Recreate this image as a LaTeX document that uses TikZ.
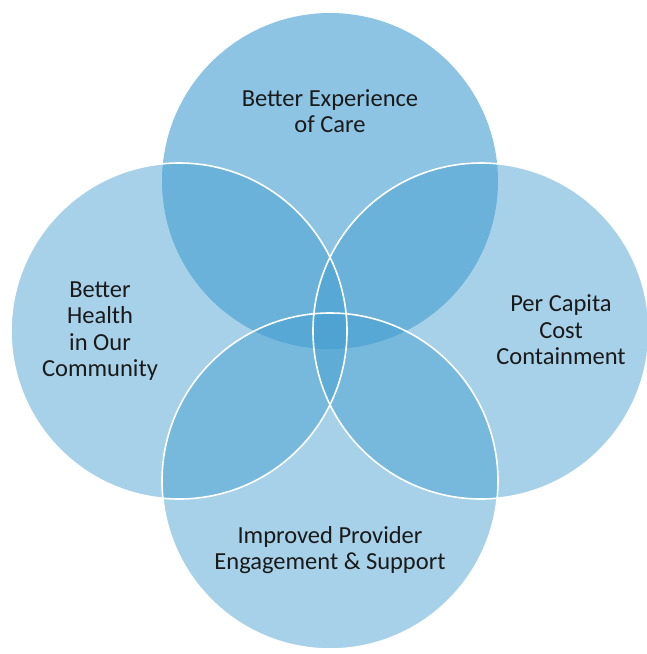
\documentclass[tikz,border=0pt]{standalone}
\usepackage{fontspec}
\setmainfont{Carlito}
\usetikzlibrary{positioning}
\definecolor{vennColor}{RGB}{67,157,208}
\definecolor{labelColor}{RGB}{26,26,26}

\begin{document}
\begin{tikzpicture}[
    x=1pt, y=-1pt,
    topfill/.style={fill=vennColor, fill opacity=0.6},   % upper circle is a bit stronger
    sidefill/.style={fill=vennColor, fill opacity=0.47},
    rim/.style={draw=white, line width=1.6pt},
    venntext/.style={text=labelColor, align=center, font=\fontsize{24.5}{26.5}\selectfont}
]

% Page size of the reference
\useasboundingbox (0,0) rectangle (647,654);

% Circle centres
\def\rad{168}
\coordinate (cTop) at (330,181);
\coordinate (cLeft) at (179,331);
\coordinate (cRight) at (481,331);
\coordinate (cBottom) at (330,481);

% Filled circles
\fill[topfill] (cTop) circle[radius=\rad];
\fill[sidefill] (cLeft) circle[radius=\rad];
\fill[sidefill] (cRight) circle[radius=\rad];
\fill[sidefill] (cBottom) circle[radius=\rad];

% White rims
\draw[rim] (cLeft) circle[radius=\rad];
\draw[rim] (cRight) circle[radius=\rad];
\draw[rim] (cBottom) circle[radius=\rad];

% Labels
\node[venntext] (care) at (330,111) {Better Experience\\of Care};
\node[venntext] (health) at (100,331) {Better\\Health\\in Our\\Community};
\node[venntext] (cost) at (561,330) {Per Capita\\Cost\\Containment};
\node[venntext] (provider) at (330,550) {Improved Provider\\Engagement \& Support};

\end{tikzpicture}
\end{document}
